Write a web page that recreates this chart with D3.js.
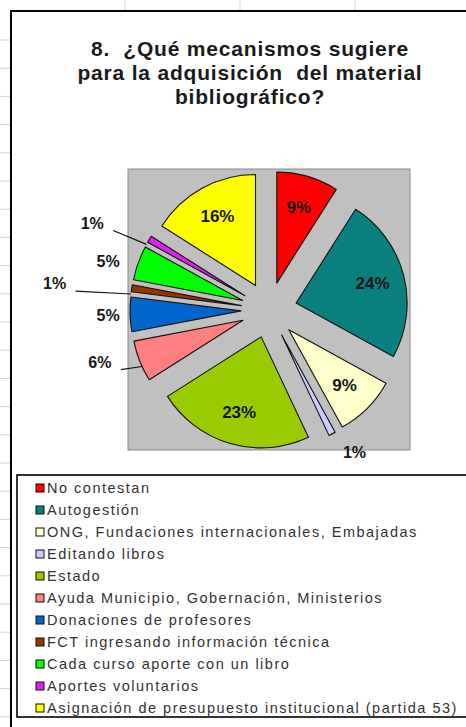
<!DOCTYPE html>
<html>
<head>
<meta charset="utf-8">
<script src="https://cdn.jsdelivr.net/npm/d3@7"></script>
<style>
  body { margin: 0; background: #fff; }
  svg { display: block; font-family: Arial, "Liberation Sans", sans-serif; }
</style>
</head>
<body>
<script>
const categories = [
  'No contestan',
  'Autogestión',
  'ONG, Fundaciones internacionales, Embajadas',
  'Editando libros',
  'Estado',
  'Ayuda Municipio, Gobernación, Ministerios',
  'Donaciones de profesores',
  'FCT ingresando información técnica',
  'Cada curso aporte con un libro',
  'Aportes voluntarios',
  'Asignación de presupuesto institucional (partida 53)'
];
const percents = [9, 24, 9, 1, 23, 6, 5, 1, 5, 1, 16];
const colors = ['#ff0000', '#0b8080', '#ffffcc', '#ccccff', '#99cc00', '#ff8080',
                '#0066cc', '#993300', '#00ff00', '#dd22ee', '#ffff00'];
const titleLines = ['8.  ¿Qué mecanismos sugiere', 'para la adquisición  del material', 'bibliográfico?'];

// label placement for the small slices (distance from centre, angle nudge in degrees)
const outsideLabels = {
  3: {dist: 166, nudge: -4, leader: false},
  5: {dist: 177, nudge: 4.5, leader: true},
  6: {dist: 161, nudge: 0, leader: false},
  7: {dist: 216, nudge: -2, leader: true},
  8: {dist: 168, nudge: -3, leader: false},
  9: {dist: 197, nudge: -4.4, leader: true}
};

const W = 466, H = 727;
const svg = d3.select('body').append('svg').attr('width', W).attr('height', H);

// spreadsheet grid peeking out around the chart
const gridY = d3.range(40, H, 28.2);
svg.selectAll('line.gh').data(gridY).enter().append('line')
  .attr('x1', 0).attr('x2', 10).attr('y1', d => d).attr('y2', d => d)
  .attr('stroke', '#d4d4d4');
svg.selectAll('line.gv').data([125, 240, 355]).enter().append('line')
  .attr('x1', d => d).attr('x2', d => d).attr('y1', 0).attr('y2', 10)
  .attr('stroke', '#d4d4d4');

// chart frame
svg.append('rect').attr('x', 11).attr('y', 11).attr('width', 480).attr('height', 740)
  .attr('fill', '#fff').attr('stroke', '#000').attr('stroke-width', 2);

// title
svg.append('text')
  .attr('text-anchor', 'middle')
  .style('font-size', '21px').style('font-weight', 'bold').style('fill', '#1a1a1a')
  .style('letter-spacing', '0.8px').style('white-space', 'pre')
  .selectAll('tspan').data(titleLines).enter().append('tspan')
    .attr('x', 250).attr('y', (d, i) => 56 + i * 24)
    .text(d => d);

// plot area
const plot = {x: 128, y: 169, w: 282, h: 281};
svg.append('rect').attr('x', plot.x).attr('y', plot.y).attr('width', plot.w).attr('height', plot.h)
  .attr('fill', '#c0c0c0').attr('stroke', '#8a8a8a');

const cx = plot.x + plot.w / 2, cy = plot.y + plot.h / 2 + 0.5;
const R = 111, explode = 28;

const pie = d3.pie().sort(null).value(d => d)(percents);
const arc = d3.arc().innerRadius(0).outerRadius(R);
const dir = a => [Math.sin(a), -Math.cos(a)];
const deg = Math.PI / 180;

const g = svg.append('g').attr('transform', `translate(${cx},${cy})`);

g.selectAll('path').data(pie).enter().append('path')
  .attr('transform', d => {
    const m = dir((d.startAngle + d.endAngle) / 2);
    return `translate(${m[0] * explode},${m[1] * explode})`;
  })
  .attr('d', arc)
  .attr('fill', (d, i) => colors[i])
  .attr('stroke', '#111').attr('stroke-width', 1.1).attr('stroke-linejoin', 'round');

// labels
pie.forEach((d, i) => {
  const mid = (d.startAngle + d.endAngle) / 2;
  const o = outsideLabels[i];
  let pos, size;
  if (o) {
    pos = dir(mid + o.nudge * deg).map(v => v * o.dist);
    size = 16;
    if (o.leader) {
      // leader ends on the exploded slice's outer arc, a little before its middle
      const off = dir(mid).map(v => v * explode);
      const e = dir(mid - 3 * deg).map((v, k) => v * R + off[k]);
      g.append('line')
        .attr('x1', pos[0] + 21).attr('y1', pos[1] + 7.5)
        .attr('x2', e[0]).attr('y2', e[1])
        .attr('stroke', '#111').attr('stroke-width', 1.2);
    }
  } else {
    pos = dir(mid).map(v => v * 107);
    size = 17;
  }
  g.append('text')
    .attr('x', pos[0]).attr('y', pos[1])
    .attr('text-anchor', 'middle').attr('dominant-baseline', 'central')
    .style('font-size', size + 'px').style('font-weight', 'bold').style('fill', '#161616')
    .text(percents[i] + '%');
});

// legend
const leg = svg.append('g');
leg.append('rect').attr('x', 17).attr('y', 475).attr('width', 470).attr('height', 242)
  .attr('fill', '#fff').attr('stroke', '#000').attr('stroke-width', 1.6);
const ly = d3.scaleLinear().domain([0, categories.length - 1]).range([488, 708]);
const item = leg.selectAll('g.item').data(categories).enter().append('g')
  .attr('transform', (d, i) => `translate(36,${ly(i)})`);
item.append('rect').attr('x', 0).attr('y', -4).attr('width', 8).attr('height', 8)
  .attr('fill', (d, i) => colors[i]).attr('stroke', '#111').attr('stroke-width', 1);
item.append('text').attr('x', 11).attr('y', 0).attr('dominant-baseline', 'central')
  .style('font-size', '14.5px').style('letter-spacing', '1.5px').style('fill', '#333')
  .text(d => d);
</script>
</body>
</html>
